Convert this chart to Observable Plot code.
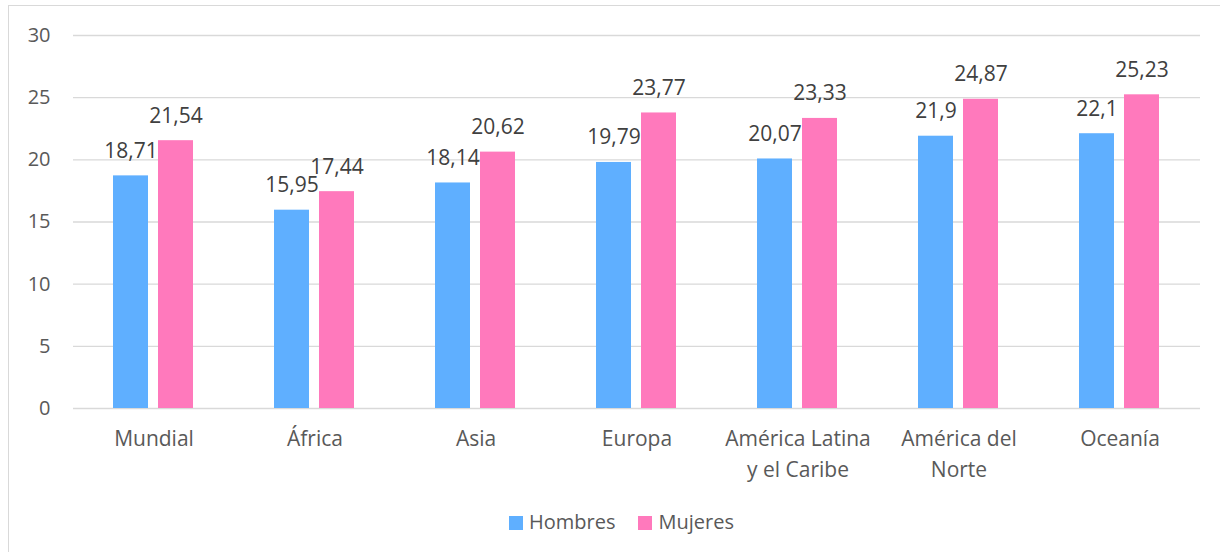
<!DOCTYPE html>
<html>
<head>
<meta charset="utf-8">
<script src="https://cdn.jsdelivr.net/npm/d3@7"></script>
<script src="https://cdn.jsdelivr.net/npm/@observablehq/plot@0.6"></script>
<style>
  html, body { margin: 0; padding: 0; background: #fff; overflow: hidden; }
  #wrap { position: relative; width: 1220px; height: 552px; font-family: "Open Sans", sans-serif; }
  #frame { position: absolute; left: 8px; top: 5px; width: 1400px; height: 800px; border: 1.5px solid #d9d9d9; box-sizing: border-box; }
  #chart { position: absolute; left: 0; top: 0; }
  #legend { position: absolute; left: 509px; top: 508px; display: flex; align-items: center; font-size: 20px; color: #595959; line-height: 28px; }
  .item { display: flex; align-items: center; }
  .sw { width: 14px; height: 14px; margin-right: 6px; margin-top: 1px; }
</style>
</head>
<body>
<div id="wrap">
  <div id="frame"></div>
  <div id="chart"></div>
  <div id="legend"></div>
</div>
<script>
const regiones = ["Mundial", "África", "Asia", "Europa", "América Latina\ny el Caribe", "América del\nNorte", "Oceanía"];
const series = ["Hombres", "Mujeres"];
const hombres = [18.71, 15.95, 18.14, 19.79, 20.07, 21.9, 22.1];
const mujeres = [21.54, 17.44, 20.62, 23.77, 23.33, 24.87, 25.23];
const colores = ["#5fafff", "#ff79bc"];
const yTicks = [0, 5, 10, 15, 20, 25, 30];

const data = [];
regiones.forEach((r, i) => {
  data.push({region: r, sexo: "Hombres", valor: hombres[i]});
  data.push({region: r, sexo: "Mujeres", valor: mujeres[i]});
});
const fmt = v => String(v).replace(".", ",");

const chart = Plot.plot({
  width: 1220,
  height: 488,
  marginLeft: 73,
  marginRight: 20,
  marginTop: 35,
  marginBottom: 80,
  style: {fontFamily: "Open Sans, sans-serif", background: "transparent", overflow: "visible"},
  fx: {domain: regiones, padding: 0},
  x: {domain: series, paddingInner: 10/46, paddingOuter: 0.861},
  y: {domain: [0, 30]},
  color: {domain: series, range: colores},
  marks: [
    Plot.ruleY(yTicks, {stroke: "#d9d9d9", strokeWidth: 1.3}),
    Plot.barY(data, {fx: "region", x: "sexo", y: "valor", fill: "sexo"}),
    Plot.text(data, {fx: "region", x: "sexo", y: "valor", text: d => fmt(d.valor), dy: -18, lineAnchor: "bottom", fontSize: 21, fill: "#404040"}),
    Plot.axisY({ticks: yTicks, tickSize: 0, tickPadding: 23, fontSize: 20, label: null, color: "#595959"}),
    Plot.axisX({ticks: [], label: null}),
    Plot.axisFx({anchor: "bottom", tickSize: 0, tickPadding: 15, fontSize: 21, lineHeight: 1.476, label: null, color: "#595959"})
  ]
});
document.getElementById("chart").appendChild(chart);

const legend = document.getElementById("legend");
series.forEach((s, i) => {
  const it = document.createElement("div");
  it.className = "item";
  it.style.marginRight = i === 0 ? "23px" : "0";
  const sw = document.createElement("div");
  sw.className = "sw";
  sw.style.background = colores[i];
  const t = document.createElement("span");
  t.textContent = s;
  it.appendChild(sw); it.appendChild(t);
  legend.appendChild(it);
});
</script>
</body>
</html>
